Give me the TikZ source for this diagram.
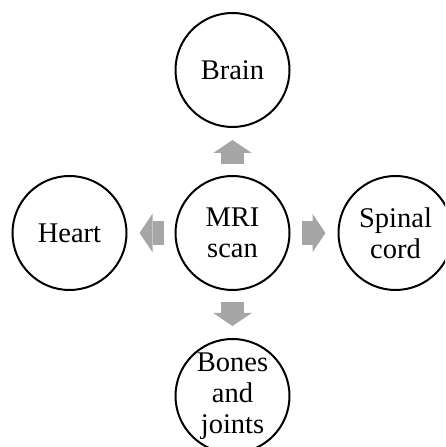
\documentclass[tikz,border=0pt]{standalone}
\usepackage{fontspec}
\setmainfont{Liberation Serif}
\usetikzlibrary{positioning,arrows.meta}

\definecolor{arrowgray}{HTML}{A6A6A6}

\begin{document}
\begin{tikzpicture}[x=1pt, y=1pt, node distance=163pt, on grid,
    organ/.style={draw=black, circle, line width=2pt, minimum size=114pt, inner sep=0pt,
        align=center, font=\fontsize{28.5}{31}\selectfont},
    blockarrow/.style={draw=arrowgray, line width=23.5pt, shorten <=11pt, shorten >=12pt,
        -{Triangle[length=13pt, width=38.5pt, line width=0pt, fill=arrowgray]}}]
    \useasboundingbox (0,0) rectangle (445,447);
    \clip (0,0) rectangle (445,447);

    \node[organ] (mri) at (232.5,214) {MRI\\scan};
    \node[organ, above=of mri] (brain) {Brain};
    \node[organ, left=of mri] (heart) {Heart};
    \node[organ, right=of mri] (spinal) {Spinal\\cord};
    \node[organ, below=of mri] (bones) {Bones\\and\\joints};

    \foreach \t in {brain,heart,spinal,bones} {\draw[blockarrow] (mri) -- (\t);}
\end{tikzpicture}
\end{document}
